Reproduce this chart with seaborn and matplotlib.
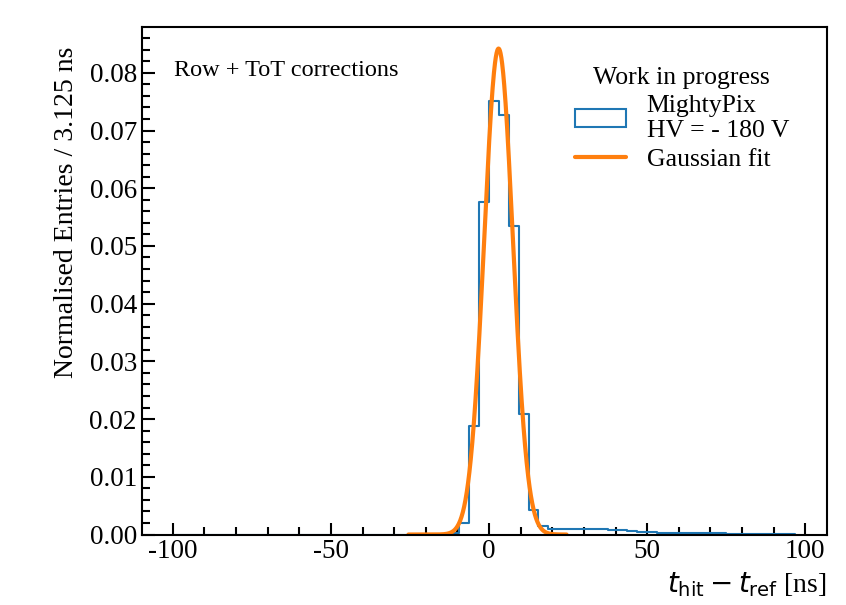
import numpy as np
import matplotlib
matplotlib.use("Agg")
import matplotlib.pyplot as plt
import seaborn as sns
from matplotlib.patches import Patch
from matplotlib.lines import Line2D
from matplotlib.ticker import MultipleLocator

# histogram: 63 bins of 3.125 ns starting at -100 ns
bin_width = 3.125
hist_start = -100.0
hist_values = [0.0] * 28 + [
    0.0003, 0.0020, 0.0188, 0.0576, 0.0752, 0.0727, 0.0534, 0.0209,
    0.0042, 0.0014, 0.0010, 0.0009, 0.0009, 0.0009, 0.0009, 0.0009,
    0.0008, 0.0007, 0.0006, 0.0005, 0.0004, 0.0003, 0.0003, 0.0002,
    0.0002, 0.0002, 0.0002, 0.0002, 0.0001, 0.0001, 0.0001, 0.0001,
    0.0001, 0.0001, 0.0001,
]

# gaussian fit parameters
fit_amp = 0.0842
fit_mu = 3.0
fit_sigma = 4.55
fit_range = (-25.5, 24.5)

hist_label = "MightyPix\nHV = - 180 V"
fit_label = "Gaussian fit"
legend_title = "Work in progress"
note = "Row + ToT corrections"

blue = "#1f77b4"
orange = "#ff7f0e"

sns.set_style("ticks")
plt.rcParams["font.family"] = ["Liberation Serif", "DejaVu Serif"]
plt.rcParams["mathtext.fontset"] = "dejavusans"
plt.rcParams["axes.unicode_minus"] = False
for key in ["text.color", "axes.labelcolor", "xtick.color", "ytick.color", "axes.edgecolor"]:
    plt.rcParams[key] = "black"

n_bins = len(hist_values)
edges = hist_start + bin_width * np.arange(n_bins + 1)
centers = 0.5 * (edges[:-1] + edges[1:])

x_fit = np.linspace(fit_range[0], fit_range[1], 600)
y_fit = fit_amp * np.exp(-0.5 * ((x_fit - fit_mu) / fit_sigma) ** 2)

fig, ax = plt.subplots(figsize=(8.46, 6.05), dpi=100)
fig.subplots_adjust(left=0.1675, right=0.977, bottom=0.1165, top=0.955)

sns.histplot(x=centers, weights=hist_values, bins=list(edges), element="step",
             fill=False, color=blue, linewidth=1.5, ax=ax)
sns.lineplot(x=x_fit, y=y_fit, color=orange, linewidth=3, ax=ax)

ax.set_xlim(-109.84, 106.72)
ax.set_ylim(0, 0.0879)

ax.xaxis.set_major_locator(MultipleLocator(50))
ax.xaxis.set_minor_locator(MultipleLocator(10))
ax.yaxis.set_major_locator(MultipleLocator(0.01))
ax.yaxis.set_minor_locator(MultipleLocator(0.002))
ax.yaxis.set_major_formatter(matplotlib.ticker.FormatStrFormatter("%.2f"))
ax.tick_params(which="both", direction="in", width=1.5, labelsize=19.5)
ax.tick_params(which="major", length=9)
ax.tick_params(which="minor", length=5.5)
for sp in ax.spines.values():
    sp.set_linewidth(1.5)

ax.set_xlabel(r"$t_{\mathrm{hit}} - t_{\mathrm{ref}}$ [ns]", fontsize=20, loc="right")
ax.set_ylabel("Normalised Entries / 3.125 ns", fontsize=20)
ax.yaxis.set_label_coords(-0.092, 0.636)

ax.text(0.047, 0.935, note, transform=ax.transAxes, fontsize=17.5, va="top")

handles = [Patch(facecolor="none", edgecolor=blue, linewidth=1.5),
           Line2D([], [], color=orange, linewidth=3)]
ax.legend(handles, [hist_label, fit_label], title=legend_title, fontsize=18.5,
          title_fontsize=18.5, frameon=False, loc="upper right",
          bbox_to_anchor=(0.979, 0.967), handletextpad=0.8, labelspacing=0.22)

fig.savefig("out.png", dpi=100)
